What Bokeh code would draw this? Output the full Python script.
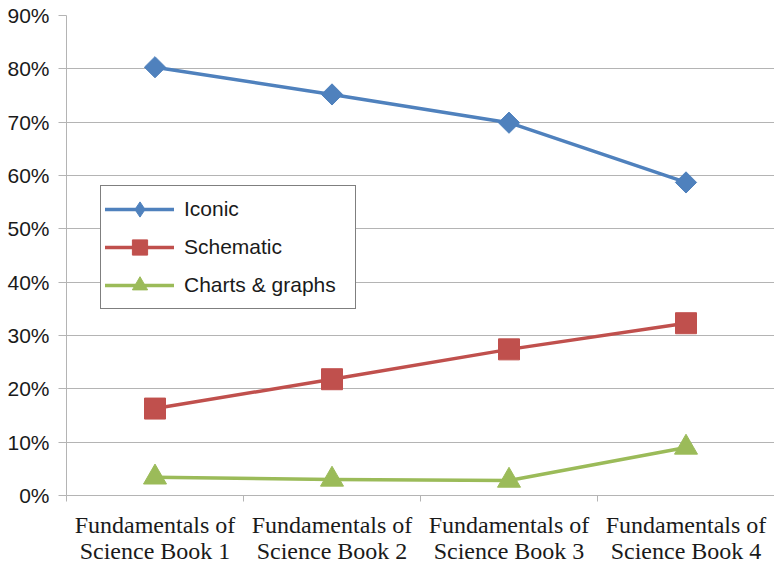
import math

from bokeh.embed import file_html
from bokeh.models import (ColumnDataSource, FixedTicker, Legend, LegendItem,
                          NumeralTickFormatter, Range1d)
from bokeh.plotting import figure
from bokeh.resources import INLINE

# Share of illustration types per textbook
books = [
    "Fundamentals of\nScience Book 1",
    "Fundamentals of\nScience Book 2",
    "Fundamentals of\nScience Book 3",
    "Fundamentals of\nScience Book 4",
]
iconic = [0.803, 0.752, 0.699, 0.587]
schematic = [0.163, 0.218, 0.274, 0.323]
charts_graphs = [0.034, 0.030, 0.028, 0.090]
y_ticks = [0.0, 0.1, 0.2, 0.3, 0.4, 0.5, 0.6, 0.7, 0.8, 0.9]

# each book occupies one unit of the x range; points sit at its centre
centres = [i + 0.5 for i in range(len(books))]
bounds = [float(i) for i in range(len(books) + 1)]

SANS = "Liberation Sans"
SERIF = "Liberation Serif"
TEXT = "#1a1a1a"
GRID = "#b4b4b4"

p = figure(
    frame_width=708, frame_height=480,
    x_range=Range1d(0, len(books)), y_range=Range1d(0, 0.9),
    output_backend="svg", toolbar_location=None,
    min_border_left=66, min_border_right=0, min_border_top=15, min_border_bottom=69,
)
p.outline_line_color = None
p.background_fill_color = "white"
p.border_fill_color = "white"

# y axis
p.yaxis.ticker = FixedTicker(ticks=y_ticks)
p.yaxis.formatter = NumeralTickFormatter(format="0%")
p.yaxis.major_label_text_font = SANS
p.yaxis.major_label_text_font_size = "21px"
p.yaxis.major_label_text_color = TEXT
p.yaxis.axis_line_color = GRID
p.yaxis.major_tick_line_color = GRID
p.yaxis.major_tick_out = 8
p.yaxis.major_tick_in = 0
p.yaxis.minor_tick_line_color = None
p.yaxis.major_label_standoff = 9

# x axis: labels at book centres, tick marks at the boundaries
p.xaxis.ticker = FixedTicker(ticks=centres, minor_ticks=bounds)
p.xaxis.major_label_overrides = {c: b for c, b in zip(centres, books)}
p.xaxis.major_label_text_font = SERIF
p.xaxis.major_label_text_font_size = "24px"
p.xaxis.major_label_text_color = TEXT
p.xaxis.major_label_text_line_height = 1.0
p.xaxis.axis_line_color = GRID
p.xaxis.major_tick_line_color = None
p.xaxis.major_tick_out = 0
p.xaxis.major_tick_in = 0
p.xaxis.minor_tick_line_color = GRID
p.xaxis.minor_tick_out = 6
p.xaxis.minor_tick_in = 0
p.xaxis.major_label_standoff = 10

p.xgrid.grid_line_color = None
p.ygrid.ticker = FixedTicker(ticks=y_ticks)
p.ygrid.grid_line_color = GRID
p.ygrid.grid_line_width = 1

series = [
    ("Iconic", iconic, "#4f81bd", "square", 15, math.pi / 4, "diamond"),
    ("Schematic", schematic, "#c0504d", "square", 21, 0.0, None),
    ("Charts & graphs", charts_graphs, "#9bbb59", "triangle", 23, 0.0, None),
]

items = []
for name, vals, color, marker, size, angle, key_marker in series:
    src = ColumnDataSource(data=dict(x=centres, y=vals))
    ln = p.line("x", "y", source=src, line_color=color, line_width=3.5,
                line_join="round", line_cap="round")
    sc = p.scatter("x", "y", source=src, marker=marker, size=size, angle=angle,
                   fill_color=color, line_color=color, line_width=1)
    key = sc
    if key_marker is not None:
        # legend keys ignore marker rotation, so the key uses a diamond glyph
        key = p.scatter("x", "y", source=src, marker=key_marker, size=size,
                        fill_color=color, line_color=color, visible=False)
    items.append(LegendItem(label=name, renderers=[ln, key]))

legend = Legend(
    items=items, location=(34, 186), margin=0, padding=4, spacing=0,
    glyph_width=69, glyph_height=38, label_height=38, label_width=167,
    label_standoff=10,
    label_text_font=SANS, label_text_font_size="21px", label_text_color=TEXT,
    border_line_color="black", border_line_width=1,
    background_fill_color="white", background_fill_alpha=1.0,
)
p.add_layout(legend, "center")

open("out.html", "w").write(file_html(p, INLINE))
